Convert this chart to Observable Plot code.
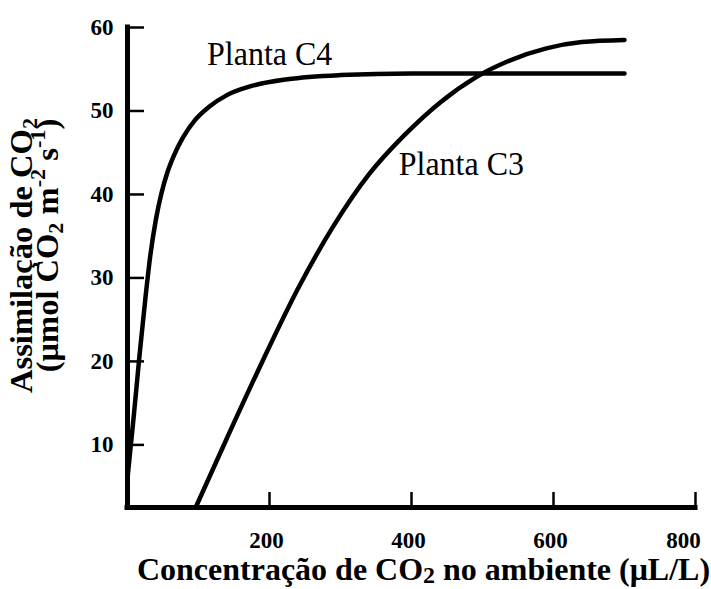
<!DOCTYPE html>
<html><head><meta charset="utf-8">
<script src="https://cdn.jsdelivr.net/npm/d3@7"></script>
<script src="https://cdn.jsdelivr.net/npm/@observablehq/plot@0.6"></script>
<style>body{margin:0;background:#fff}</style>
</head><body><div id="chart"></div>
<script>
// Curve values
const c4X = [0, 4, 9, 17, 25, 32, 40, 48, 56, 65, 78, 95, 115, 140, 175, 225, 300, 400, 550, 700];
const c4Y = [6, 9.4, 13.6, 20.8, 27.4, 32.6, 37, 40.2, 42.6, 44.6, 46.8, 48.9, 50.5, 51.9, 53, 53.8, 54.3, 54.5, 54.5, 54.5];
const c3X = [96, 140, 190, 240, 290, 340, 390, 440, 490, 540, 590, 640, 700];
const c3Y = [2.5, 10.8, 20, 28.7, 36.2, 42.4, 47.1, 51, 54, 56.1, 57.5, 58.25, 58.5];
const xTicks = [200, 400, 600, 800];
const yTicks = [10, 20, 30, 40, 50, 60];
const xDomain = [0, 800];
const yDomain = [2.5, 60];
const seriesLabels = ["Planta C4", "Planta C3"];
const labelX = [112, 382];
const labelY = [55.5, 42.3];
const xTitle = "Concentração de CO_{2} no ambiente (μL/L)";
const yTitle1 = "Assimilação de CO_{2}";
const yTitle2 = "(μmol CO_{2} m^{-2} s^{-1})";

const c4 = c4X.map((x, i) => ({x, y: c4Y[i]}));
const c3 = c3X.map((x, i) => ({x, y: c3Y[i]}));
const serif = "'Liberation Serif','Times New Roman',Times,serif";

const W = 711, H = 589, mL = 127, mR = 16, mT = 27, mB = 82;
const frameW = W - mL - mR, frameH = H - mT - mB;
const tickFont = {fontSize: 23, fontWeight: "bold", fontFamily: serif};

const chart = Plot.plot({
  width: W, height: H, marginLeft: mL, marginRight: mR, marginTop: mT, marginBottom: mB,
  style: {fontFamily: serif, background: "#fff", color: "#000", fontWeight: "bold"},
  x: {domain: xDomain},
  y: {domain: yDomain},
  marks: [
    Plot.line(c4, {x: "x", y: "y", curve: "monotone-x", stroke: "#000", strokeWidth: 4.5}),
    Plot.line(c3, {x: "x", y: "y", curve: "monotone-x", stroke: "#000", strokeWidth: 4.5}),
    Plot.ruleX([xDomain[0]], {stroke: "#000", strokeWidth: 5, strokeLinecap: "square"}),
    Plot.ruleY([yDomain[0]], {stroke: "#000", strokeWidth: 5, strokeLinecap: "square"}),
    Plot.tickY(yTicks, {y: d => d, stroke: "#000", strokeWidth: 2.5, insetRight: frameW - 17}),
    Plot.tickX(xTicks, {x: d => d, stroke: "#000", strokeWidth: 2.5, insetTop: frameH - 15}),
    Plot.axisY({ticks: yTicks, tickSize: 0, tickPadding: 14, label: null, ...tickFont}),
    Plot.axisX({ticks: xTicks.slice(0, -1), tickSize: 0, tickPadding: 24, dx: -3, label: null, ...tickFont}),
    Plot.axisX({ticks: xTicks.slice(-1), tickSize: 0, tickPadding: 24, dx: -12, label: null, ...tickFont}),
    Plot.text(seriesLabels, {x: (d, i) => labelX[i], y: (d, i) => labelY[i], text: d => d, textAnchor: "start", lineAnchor: "bottom", fontSize: 32, fontWeight: "normal", fontFamily: serif}),
    Plot.text([xTitle], {frameAnchor: "bottom", textAnchor: "middle", dy: 72, dx: 12, lineAnchor: "bottom", fontSize: 32, fontWeight: "bold", fontFamily: serif}),
    Plot.text([yTitle1], {frameAnchor: "left", textAnchor: "middle", rotate: -90, dx: -96, dy: -12, lineAnchor: "bottom", fontSize: 31, fontWeight: "bold", fontFamily: serif}),
    Plot.text([yTitle2], {frameAnchor: "left", textAnchor: "middle", rotate: -90, dx: -70, dy: -22, lineAnchor: "bottom", fontSize: 31, fontWeight: "bold", fontFamily: serif})
  ]
});
document.getElementById("chart").appendChild(chart);

// turn _{..} / ^{..} markers into sub/superscript tspans
const NS = "http://www.w3.org/2000/svg";
chart.querySelectorAll("text").forEach(t => {
  const s = t.textContent;
  const tr = t.getAttribute("transform") || "";
  if (s === yTitle1 || s === yTitle2) t.setAttribute("transform", tr + " scale(1.05,1)");
  if (seriesLabels.includes(s)) t.setAttribute("transform", tr + " scale(1,1.08)");
  if (!/[_^]\{/.test(s)) return;
  const fs = parseFloat(getComputedStyle(t).fontSize) || 31;
  const isX = s === xTitle;
  while (t.firstChild) t.removeChild(t.firstChild);
  const re = /([_^])\{([^}]*)\}/g;
  let last = 0, m, pending = 0;
  const add = (txt, attrs) => {
    const ts = document.createElementNS(NS, "tspan");
    for (const k in attrs) ts.setAttribute(k, attrs[k]);
    ts.textContent = txt;
    t.appendChild(ts);
  };
  while ((m = re.exec(s))) {
    if (m.index > last) { add(s.slice(last, m.index), pending ? {dy: pending} : {}); pending = 0; }
    const shift = m[1] === "_" ? (isX ? 0.12 : 0.18) * fs : -0.4 * fs;
    add(m[2], {"font-size": (isX ? 0.75 : 0.68) * fs, dy: shift + pending});
    pending = -shift;
    last = re.lastIndex;
  }
  if (last < s.length) add(s.slice(last), pending ? {dy: pending} : {});
});
</script>
</body></html>
